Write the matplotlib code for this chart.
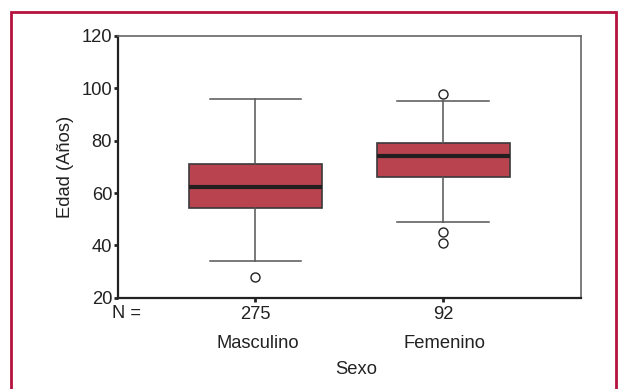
import matplotlib.pyplot as plt
from matplotlib.patches import Rectangle
from matplotlib.transforms import blended_transform_factory

plt.rcParams['font.family'] = ['Liberation Sans', 'DejaVu Sans']

# summary values
groups = ["Masculino", "Femenino"]
counts = [275, 92]
whislo = [34, 49]
q1 = [54.2, 66.3]
med = [62.3, 74.1]
q3 = [71, 79]
whishi = [96, 95]
fliers = [[28], [98, 45, 41]]

stats = []
for i in range(len(groups)):
    stats.append(dict(label=groups[i], whislo=whislo[i], q1=q1[i], med=med[i],
                      q3=q3[i], whishi=whishi[i], fliers=fliers[i]))

fs = 13.2
W, H = 621, 389
fig = plt.figure(figsize=(W / 100, H / 100), dpi=100)
ax = fig.add_axes([117.6 / W, 1 - 297.7 / H, (581 - 117.6) / W, (297.7 - 36) / H])

ax.bxp(stats, positions=[1, 2], widths=0.71, patch_artist=True,
       boxprops=dict(facecolor="#b9434e", edgecolor="#3a3a3a", linewidth=1.2),
       medianprops=dict(color="#231f20", linewidth=3),
       whiskerprops=dict(color="#555555", linewidth=1.1),
       capprops=dict(color="#555555", linewidth=1.1),
       capwidths=0.49,
       flierprops=dict(marker="o", markerfacecolor="none", markeredgecolor="#222222",
                       markersize=6.5, markeredgewidth=1.0))

ax.set_xlim(0.265, 2.735)
ax.set_ylim(20, 120)
ax.set_yticks([20, 40, 60, 80, 100, 120])
ax.set_xticks([1, 2])
ax.set_xticklabels([str(c) for c in counts])
ax.tick_params(axis="both", labelsize=fs, colors="#222222", length=3, width=2, direction="out")
ax.tick_params(axis="x", pad=3)
ax.tick_params(axis="y", pad=1)

for s in ["left", "bottom"]:
    ax.spines[s].set_color("#222222")
    ax.spines[s].set_linewidth(1.6)
for s in ["top", "right"]:
    ax.spines[s].set_color("#666666")
    ax.spines[s].set_linewidth(1.2)

ax.set_ylabel("Edad (Años)", fontsize=fs, color="#222222", labelpad=5)

tr = blended_transform_factory(ax.transData, fig.transFigure)
fig.text(127 / W, 1 - 313 / H, "N =", ha="center", va="center", fontsize=fs, color="#222222")
for i, g in enumerate(groups):
    ax.text(i + 1.01, 1 - 343 / H, g, transform=tr, ha="center", va="center",
            fontsize=fs, color="#222222")
fig.text(356 / W, 1 - 369 / H, "Sexo", ha="center", va="center", fontsize=fs, color="#222222")

fig.patches.append(Rectangle((11 / W, -0.1), (616 - 11) / W, 1 - 12 / H + 0.1,
                             transform=fig.transFigure, fill=False,
                             edgecolor="#b5123e", linewidth=2))

fig.savefig("out.png", dpi=100)
